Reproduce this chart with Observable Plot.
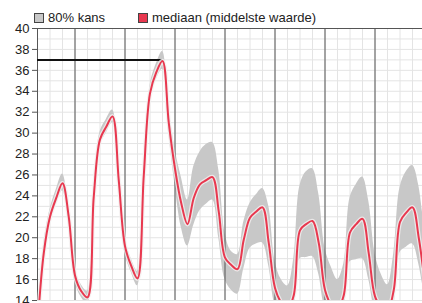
<!DOCTYPE html>
<html><head><meta charset="utf-8">
<script src="https://cdn.jsdelivr.net/npm/d3@7"></script>
<script src="https://cdn.jsdelivr.net/npm/@observablehq/plot@0.6"></script>
<style>
body{margin:0;background:#fff;font-family:Arial,"Liberation Sans",sans-serif;}
#wrap{position:relative;width:422px;height:303px;overflow:hidden;}
.item{position:absolute;top:11px;font-size:13px;line-height:13px;color:#222;display:flex;align-items:center;white-space:nowrap;z-index:2;}
.sw{display:inline-block;width:8px;height:8px;border:1px solid #444;margin-right:4px;}
</style></head>
<body><div id="wrap">
<div class="item" style="left:34px"><span class="sw" style="background:#c8c8c8"></span>80% kans</div>
<div class="item" style="left:138px"><span class="sw" style="background:#e8384f"></span>mediaan (middelste waarde)</div>
</div>
<script>
const hours = [6,9,12,15,18,21,24,27,30,33,36,39,42,45,48,51,54,57,60,63,66,69,72,75,78,81,84,87,90,93,96,99,102,105,108,111,114,117,120,123,126,129,132,135,138,141,144,147,150,153,156,159,162,165,168,171,174,177,180,183,186,189,192];
const median = [11.5,18.5,22.0,23.8,25.2,22.0,16.4,14.9,14.3,23.9,29.4,30.6,31.6,25.5,19.2,17.3,16.1,25.9,33.8,35.8,36.9,31.0,26.6,23.3,21.3,23.8,25.1,25.5,25.8,22.5,18.1,17.4,17.0,19.8,21.9,22.5,22.9,19.5,15.2,13.8,13.2,14.5,20.7,21.3,21.6,19.5,15.0,13.6,13.2,14.5,20.5,21.3,21.8,18.5,14.4,13.4,13.1,15.0,21.5,22.4,22.9,20.0,15.5];
const low = [11.0,17.6,21.4,23.2,24.5,21.3,15.8,14.3,13.7,23.0,28.8,30.0,31.0,24.8,18.5,16.7,15.4,25.0,33.1,35.1,36.1,30.0,25.0,21.0,19.2,21.2,22.6,23.2,23.6,20.0,16.0,15.0,14.6,17.0,19.0,19.4,19.5,17.3,13.5,12.3,12.0,13.0,18.0,18.1,18.2,16.5,13.3,12.5,12.0,13.0,17.7,17.9,18.0,16.0,13.0,12.0,12.0,13.5,18.6,19.1,19.4,17.5,14.0];
const high = [12.3,19.4,22.7,24.6,26.1,22.9,17.0,15.5,14.9,24.7,30.1,31.3,32.2,26.4,19.9,18.0,16.8,26.7,34.5,36.6,37.8,32.5,28.5,25.8,23.6,26.8,28.2,28.9,29.1,26.5,20.5,18.7,18.4,21.5,23.3,24.1,24.7,23.0,17.8,16.0,15.4,18.0,25.0,26.3,26.6,24.2,19.0,17.2,16.0,17.5,23.8,25.1,25.8,23.5,18.5,16.5,15.5,18.5,24.8,26.3,26.9,25.0,20.0];
const yTicks = [14,16,18,20,22,24,26,28,30,32,34,36,38,40];
const yGrid = [14,15,16,17,18,19,20,21,22,23,24,25,26,27,28,29,30,31,32,33,34,35,36,37,38,39,40];
const sixHours = [12,18,24,30,36,42,48,54,60,66,72,78,84,90,96,102,108,114,120,126,132,138,144,150,156,162,168,174,180,186];
const midnights = [24,48,72,96,120,144,168];
const maxLine = [{value:37, from:6, to:66}];

const data = hours.map((h,i)=>({h, med:median[i], lo:low[i], hi:high[i]}));

const chart = Plot.plot({
  width:422, height:303,
  marginLeft:37, marginRight:0, marginTop:28, marginBottom:3,
  x:{domain:[6,190.8], axis:null},
  y:{domain:[14,40]},
  style:{fontFamily:"Arial, 'Liberation Sans', sans-serif", fontSize:"13px", background:"transparent"},
  marks:[
    Plot.ruleX(sixHours, {stroke:"#e4e4e4", strokeWidth:1}),
    Plot.ruleY(yGrid, {stroke:"#e4e4e4", strokeWidth:1}),
    Plot.areaY(data, {x:"h", y1:"lo", y2:"hi", curve:"catmull-rom", fill:"#c8c8c8", clip:true}),
    Plot.ruleX(midnights, {stroke:"#555", strokeWidth:1}),
    Plot.ruleY([40], {stroke:"#555", strokeWidth:1}),
    Plot.ruleX([6], {stroke:"#555", strokeWidth:1}),
    Plot.ruleY(maxLine, {y:"value", x1:"from", x2:"to", stroke:"#111", strokeWidth:2}),
    Plot.line(data, {x:"h", y:"med", curve:"catmull-rom", stroke:"#f4f0f0", strokeWidth:4.5, strokeOpacity:0.8, clip:true}),
    Plot.line(data, {x:"h", y:"med", curve:"catmull-rom", stroke:"#e8384f", strokeWidth:2, clip:true}),
    Plot.axisY({ticks:yTicks, tickSize:5, tickPadding:3, fontSize:13, color:"#222", label:null, stroke:"#555"})
  ]
});
document.getElementById("wrap").appendChild(chart);
</script>
</body></html>
